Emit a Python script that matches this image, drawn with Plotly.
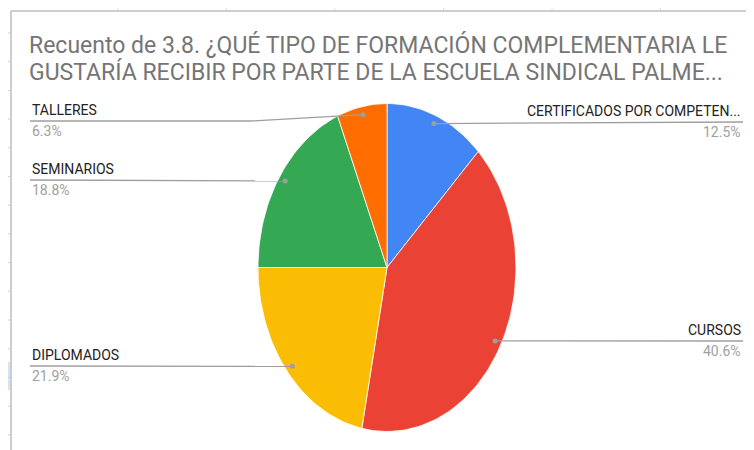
import math
import plotly.graph_objects as go

# ---------------- data ----------------
categories = ["CERTIFICADOS POR COMPETEN...", "CURSOS", "DIPLOMADOS", "SEMINARIOS", "TALLERES"]
counts = [4, 13, 7, 6, 2]
colors = ["#4285F4", "#EA4335", "#FBBC04", "#34A853", "#FF6D01"]
title_lines = [
    "Recuento de 3.8. ¿QUÉ TIPO DE FORMACIÓN COMPLEMENTARIA LE",
    "GUSTARÍA RECIBIR POR PARTE DE LA ESCUELA SINDICAL PALME...",
]

# ---------------- layout constants (page pixels) ----------------
W, H = 754, 450
PAGE_MARGIN = 8  # default body margin of the html page
CX, CY, RX, RY = 387, 267.5, 129, 164
DOT_R = 0.95
label_side = ["right", "right", "left", "left", "left"]
label_line_y = [122, 341, 366, 180, 121]
LEFT_X, RIGHT_X = 30, 743
BEND_LEFT = 250

FONT = "Roboto, Arial, sans-serif"

total = sum(counts)
fracs = [c / total for c in counts]


def pct_text(f):
    v = math.floor(f * 1000 + 0.5) / 10
    return f"{v:.1f}%"


fig = go.Figure()

# pie slices drawn as filled paths (elliptical pie, clockwise from 12 o'clock)
cum = 0.0
mids = []
for cat, cnt, f, col in zip(categories, counts, fracs, colors):
    a0, a1 = cum * 2 * math.pi, (cum + f) * 2 * math.pi
    n = max(8, int(200 * f))
    xs, ys = [CX], [CY]
    for i in range(n + 1):
        a = a0 + (a1 - a0) * i / n
        xs.append(CX + RX * math.sin(a))
        ys.append(CY - RY * math.cos(a))
    xs.append(CX)
    ys.append(CY)
    fig.add_trace(go.Scatter(x=xs, y=ys, fill="toself", fillcolor=col, mode="lines",
                             line=dict(color="white", width=0.8), hoverinfo="text",
                             text=f"{cat}: {cnt}", showlegend=False))
    mids.append((a0 + a1) / 2)
    cum += f

# leader lines, dots and labels
annotations = []
for cat, f, m, side, ly in zip(categories, fracs, mids, label_side, label_line_y):
    dx = CX + RX * DOT_R * math.sin(m)
    dy = CY - RY * DOT_R * math.cos(m)
    if side == "left":
        if abs(dy - ly) > 2:
            lx, lyy = [LEFT_X, BEND_LEFT, dx], [ly, ly, dy]
        else:
            lx, lyy = [LEFT_X, dx], [ly, dy]
        tx, anchor = LEFT_X, "left"
    else:
        lx, lyy = [dx, RIGHT_X], [dy, ly]
        tx, anchor = RIGHT_X, "right"
    fig.add_trace(go.Scatter(x=lx, y=lyy, mode="lines", line=dict(color="#9E9E9E", width=1.3),
                             hoverinfo="skip", showlegend=False))
    fig.add_trace(go.Scatter(x=[dx], y=[dy], mode="markers", marker=dict(color="#9E9E9E", size=5),
                             hoverinfo="skip", showlegend=False))
    annotations.append(dict(x=tx, y=ly - 1, xref="x", yref="y", text=cat, showarrow=False,
                            xanchor=anchor, yanchor="bottom",
                            font=dict(family=FONT, size=14, color="#222222")))
    annotations.append(dict(x=tx, y=ly, xref="x", yref="y", text=pct_text(f), showarrow=False,
                            xanchor=anchor, yanchor="top",
                            font=dict(family=FONT, size=14, color="#A0A0A0")))

# title
for i, t in enumerate(title_lines):
    annotations.append(dict(x=LEFT_X - 3, y=45 + 27 * i, xref="x", yref="y", text=t, showarrow=False,
                            xanchor="left", yanchor="middle",
                            font=dict(family=FONT, size=23, color="#757575")))

# spreadsheet frame behind the chart
shapes = [
    dict(type="line", x0=11, x1=W, y0=11, y1=11, xref="x", yref="y", line=dict(color="#BDBDBD", width=1.5)),
    dict(type="line", x0=11, x1=11, y0=11, y1=H, xref="x", yref="y", line=dict(color="#BDBDBD", width=1.5)),
    dict(type="rect", x0=8, x1=10, y0=362, y1=390, xref="x", yref="y", fillcolor="#D2E3FC", line=dict(width=0)),
]
for k in range(6):
    xv = 118 + 108.5 * k
    shapes.append(dict(type="line", x0=xv, x1=xv, y0=PAGE_MARGIN, y1=10, xref="x", yref="y",
                       line=dict(color="#E0E0E0", width=1)))
for k in range(15):
    yv = 33 + 28.7 * k
    shapes.append(dict(type="line", x0=PAGE_MARGIN, x1=10, y0=yv, y1=yv, xref="x", yref="y",
                       line=dict(color="#D0D0D0", width=1)))

fig.update_layout(
    width=W - PAGE_MARGIN, height=H - PAGE_MARGIN, margin=dict(l=0, r=0, t=0, b=0),
    paper_bgcolor="white", plot_bgcolor="white",
    xaxis=dict(range=[PAGE_MARGIN, W], visible=False, fixedrange=True),
    yaxis=dict(range=[H, PAGE_MARGIN], visible=False, fixedrange=True),
    annotations=annotations, shapes=shapes, showlegend=False,
)

fig.write_html("out.html")
